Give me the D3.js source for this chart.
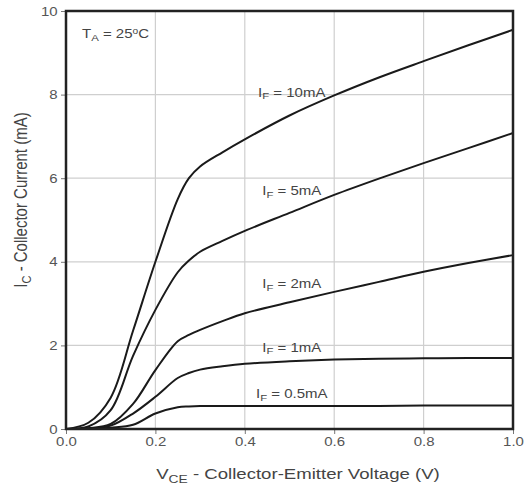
<!DOCTYPE html>
<html>
<head>
<meta charset="utf-8">
<script src="https://cdn.jsdelivr.net/npm/d3@7"></script>
<style>
  body { margin: 0; background: #fff; }
  text { font-family: "Liberation Sans", Arial, sans-serif; }
</style>
</head>
<body>
<svg id="chart"></svg>
<script>
// collector-emitter voltage samples (V)
const vce = [0, 0.05, 0.1, 0.15, 0.2, 0.25, 0.275, 0.3, 0.35, 0.4, 0.5, 0.6, 0.7, 0.8, 0.9, 1.0];

// collector current (mA) for each forward current
const ic10 = [0, 0.15, 0.75, 2.35, 4.0, 5.5, 6.0, 6.28, 6.62, 6.93, 7.5, 7.98, 8.41, 8.8, 9.18, 9.55];
const ic5 = [0, 0.06, 0.45, 1.75, 2.85, 3.75, 4.03, 4.24, 4.5, 4.74, 5.17, 5.6, 5.99, 6.36, 6.72, 7.08];
const ic2 = [0, 0.02, 0.12, 0.6, 1.41, 2.1, 2.25, 2.37, 2.58, 2.77, 3.03, 3.28, 3.52, 3.76, 3.97, 4.16];
const ic1 = [0, 0.01, 0.08, 0.37, 0.77, 1.22, 1.34, 1.42, 1.5, 1.56, 1.62, 1.66, 1.68, 1.69, 1.7, 1.7];
const ic05 = [0, 0, 0.03, 0.1, 0.37, 0.52, 0.54, 0.55, 0.55, 0.55, 0.55, 0.55, 0.55, 0.56, 0.56, 0.56];

const seriesNames = ["10mA", "5mA", "2mA", "1mA", "0.5mA"];
const labelY = [7.95, 5.6, 3.37, 1.85, 0.73];   // label baselines (mA)
const labelX = 0.505;

const xTicks = [0, 0.2, 0.4, 0.6, 0.8, 1.0];
const yTicks = [0, 2, 4, 6, 8, 10];

const width = 531, height = 491;
const margin = { top: 11, right: 18, bottom: 62, left: 66 };
const w = width - margin.left - margin.right;
const h = height - margin.top - margin.bottom;
const sx = 1.2; // the source picture is a little wider than tall

const svg = d3.select("#chart").attr("width", width).attr("height", height);
const g = svg.append("g").attr("transform", `translate(${margin.left},${margin.top})`);

const x = d3.scaleLinear().domain([0, 1]).range([0, w]);
const y = d3.scaleLinear().domain([0, 10]).range([h, 0]);

// grid
g.append("g").selectAll("line").data(xTicks.slice(1, -1)).enter().append("line")
  .attr("x1", d => x(d)).attr("x2", d => x(d)).attr("y1", 0).attr("y2", h)
  .attr("stroke", "#cfcfcf").attr("stroke-width", 1.2);
g.append("g").selectAll("line").data(yTicks.slice(1, -1)).enter().append("line")
  .attr("y1", d => y(d)).attr("y2", d => y(d)).attr("x1", 0).attr("x2", w)
  .attr("stroke", "#cfcfcf").attr("stroke-width", 1.2);

// axes
const xAxis = g.append("g").attr("transform", `translate(0,${h})`)
  .call(d3.axisBottom(x).tickValues(xTicks).tickFormat(d3.format(".1f")).tickSize(5).tickPadding(3));
const yAxis = g.append("g")
  .call(d3.axisLeft(y).tickValues(yTicks).tickFormat(d3.format("d")).tickSize(5).tickPadding(2));
[xAxis, yAxis].forEach(a => {
  a.select(".domain").remove();
  a.selectAll(".tick line").attr("stroke", "#777");
  a.selectAll(".tick text").attr("fill", "#555").style("font-size", "12.5px")
    .attr("transform", `scale(${sx},1)`);
});

// curves
const line = d3.line().x((d, i) => x(vce[i])).y(d => y(d)).curve(d3.curveCatmullRom.alpha(0.5));
const series = [ic10, ic5, ic2, ic1, ic05];
g.append("g").selectAll("path").data(series).enter().append("path")
  .attr("d", d => line(d))
  .attr("fill", "none").attr("stroke", "#1a1a1a").attr("stroke-width", 2);

// border
g.append("rect").attr("width", w).attr("height", h)
  .attr("fill", "none").attr("stroke", "#222").attr("stroke-width", 2.5);

// curve labels
const lab = g.append("g").selectAll("text").data(seriesNames).enter().append("text")
  .attr("transform", (d, i) => `translate(${x(labelX)},${y(labelY[i])}) scale(${sx},1)`)
  .attr("text-anchor", "middle")
  .attr("fill", "#444").style("font-size", "12.5px");
lab.append("tspan").text("I");
lab.append("tspan").attr("baseline-shift", "-30%").style("font-size", "9.5px").text("F");
lab.append("tspan").text(d => " = " + d);

// temperature note
const ta = g.append("text").attr("transform", `translate(16,27) scale(${sx},1)`)
  .attr("fill", "#444").style("font-size", "12.5px");
ta.append("tspan").text("T");
ta.append("tspan").attr("baseline-shift", "-30%").style("font-size", "9.5px").text("A");
ta.append("tspan").text(" = 25");
ta.append("tspan").attr("baseline-shift", "45%").style("font-size", "8.5px").text("o");
ta.append("tspan").text("C");

// axis titles
const xt = svg.append("text").attr("transform", `translate(298,479) scale(${sx},1)`)
  .attr("text-anchor", "middle").attr("fill", "#444").style("font-size", "15.5px");
xt.append("tspan").text("V");
xt.append("tspan").attr("baseline-shift", "-30%").style("font-size", "11.5px").text("CE");
xt.append("tspan").text(" - Collector-Emitter Voltage (V)");

const yt = svg.append("text")
  .attr("transform", `translate(27,200) scale(${sx},1) rotate(-90)`)
  .attr("text-anchor", "middle").attr("fill", "#444").style("font-size", "15px");
yt.append("tspan").text("I");
yt.append("tspan").attr("baseline-shift", "-30%").style("font-size", "11px").text("C");
yt.append("tspan").text(" - Collector Current (mA)");
</script>
</body>
</html>
